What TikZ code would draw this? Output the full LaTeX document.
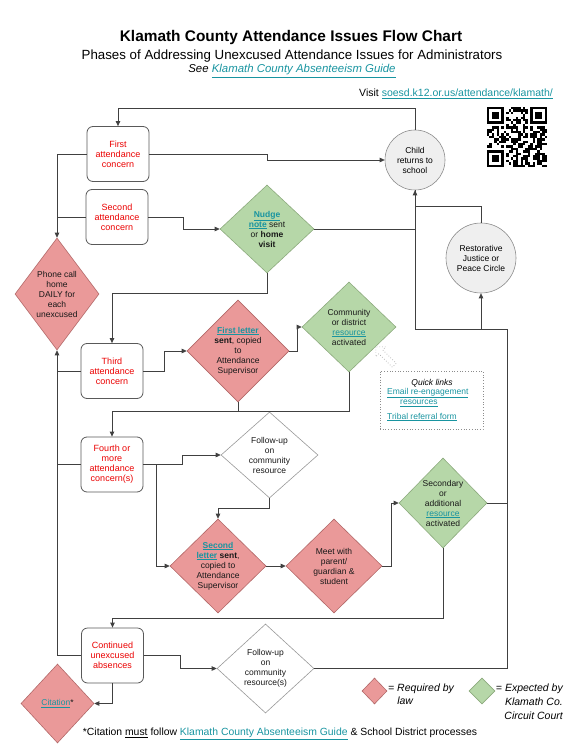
\documentclass[tikz,border=0pt]{standalone}
\usepackage{fontspec}
\setmainfont{Liberation Sans}
\usetikzlibrary{arrows.meta,shapes.geometric,shapes.arrows}
\definecolor{linkc}{RGB}{24,148,160}
\definecolor{redfill}{RGB}{234,153,153}
\definecolor{redline}{RGB}{178,104,104}
\definecolor{grnfill}{RGB}{182,215,168}
\definecolor{grnline}{RGB}{140,170,125}
\definecolor{circfill}{RGB}{239,239,239}
\definecolor{concern}{RGB}{235,0,0}
\newcommand{\lnk}[1]{\textcolor{linkc}{\underline{#1}}}

\begin{document}
\begin{tikzpicture}[x=1pt,y=-1pt,
  box/.style={draw=black!65,rounded corners=6pt,fill=white,line width=0.8pt,
              minimum width=62,minimum height=55,align=center,text=concern,
              font=\fontsize{9}{10}\selectfont},
  reddia/.style={diamond,draw=redline,fill=redfill,inner sep=0,line width=0.6pt},
  grndia/.style={diamond,draw=grnline,fill=grnfill,inner sep=0,line width=0.6pt},
  whtdia/.style={diamond,draw=black!40,fill=white,inner sep=0,line width=0.6pt},
  circ/.style={circle,draw=black!45,fill=circfill,align=center,inner sep=0,
               line width=0.6pt,font=\fontsize{8.5}{10}\selectfont},
  dtxt/.style={align=center,inner sep=0,font=\fontsize{8.5}{10}\selectfont,text=black!90},
  qtxt/.style={inner sep=0,font=\fontsize{8.5}{10}\selectfont},
  lgtxt/.style={inner sep=0,font=\itshape\fontsize{10.5}{12.5}\selectfont},
  arr/.style={-{Triangle[length=5pt,width=4.5pt]},draw=black!75,line width=0.8pt},
  ln/.style={draw=black!75,line width=0.8pt}
]
\useasboundingbox (0,0) rectangle (576,751);

% header
\node[font=\bfseries\fontsize{15.4}{18}\selectfont] (title) at (291,38) {Klamath County Attendance Issues Flow Chart};
\node[font=\fontsize{13.3}{16}\selectfont] (sub) at (292,56) {Phases of Addressing Unexcused Attendance Issues for Administrators};
\node[font=\itshape\fontsize{11.4}{13}\selectfont] (see) at (292,71) {See \lnk{Klamath County Absenteeism Guide}};
\node[font=\fontsize{10.5}{12}\selectfont,anchor=east,inner sep=0] (visit) at (553,94) {Visit \lnk{soesd.k12.or.us/attendance/klamath/}};

% QR code
\begin{scope}[shift={(487,107)}]
  \pgfmathsetseed{11}
  \foreach \i in {0,...,24}{
    \foreach \j in {0,...,24}{
      \pgfmathtruncatemacro{\qrout}{((\i<8)&&(\j<8))||((\i>16)&&(\j<8))||((\i<8)&&(\j>16))}
      \pgfmathrandominteger{\qrbit}{0}{1}
      \ifnum\qrout=0 \ifnum\qrbit=1
        \fill ({\i*2.4},{\j*2.4}) rectangle ++(2.4,2.4);
      \fi\fi
    }
  }
  \foreach \a/\b in {0/0,18/0,0/18}{
    \fill ({\a*2.4},{\b*2.4}) rectangle ++(16.8,16.8);
    \fill[white] ({\a*2.4+2.4},{\b*2.4+2.4}) rectangle ++(12,12);
    \fill ({\a*2.4+4.8},{\b*2.4+4.8}) rectangle ++(7.2,7.2);
  }
\end{scope}

% concern boxes
\node[box] (first)  at (118,154)   {First\\attendance\\concern};
\node[box] (second) at (117,217)   {Second\\attendance\\concern};
\node[box] (third)  at (112,371)   {Third\\attendance\\concern};
\node[box] (fourth) at (112,464.5) {Fourth or\\more\\attendance\\concern(s)};
\node[box] (cont)   at (112.5,655.5) {Continued\\unexcused\\absences};

% circles
\node[circ,minimum size=60] (child) at (415,160) {Child\\returns to\\school};
\node[circ,minimum size=70] (resto) at (481,258) {Restorative\\Justice or\\Peace Circle};

% diamonds
\node[reddia,minimum width=84,minimum height=112,
      label={[dtxt]center:{Phone call\\home\\DAILY for\\each\\unexcused}}] (phone) at (57,294) {};
\node[grndia,minimum width=94,minimum height=88,
      label={[dtxt]center:{\lnk{\textbf{Nudge}}\\\lnk{\textbf{note}} sent\\or \textbf{home}\\\textbf{visit}}}] (nudge) at (267,229) {};
\node[reddia,minimum width=102,minimum height=102,
      label={[dtxt]center:{\lnk{\textbf{First letter}}\\\textbf{sent}, copied\\to\\Attendance\\Supervisor}}] (letA) at (238,351) {};
\node[grndia,minimum width=94,minimum height=90,
      label={[dtxt]center:{Community\\or district\\\lnk{resource}\\activated}}] (comm) at (349,327) {};
\node[whtdia,minimum width=97,minimum height=86,
      label={[dtxt]center:{Follow-up\\on\\community\\resource}}] (fupA) at (269.5,455) {};
\node[reddia,minimum width=96,minimum height=94,
      label={[dtxt]center:{\lnk{\textbf{Second}}\\\lnk{\textbf{letter}} \textbf{sent},\\copied to\\Attendance\\Supervisor}}] (letB) at (218,566) {};
\node[reddia,minimum width=96,minimum height=94,
      label={[dtxt]center:{Meet with\\parent/\\guardian \&\\student}}] (meet) at (334,566) {};
\node[grndia,minimum width=88,minimum height=90,
      label={[dtxt]center:{Secondary\\or\\additional\\\lnk{resource}\\activated}}] (secd) at (443,503) {};
\node[whtdia,minimum width=97,minimum height=89,
      label={[dtxt]center:{Follow-up\\on\\community\\resource(s)}}] (fupB) at (265.5,668.5) {};
\node[reddia,minimum width=73,minimum height=79,
      label={[dtxt]center:{\lnk{Citation}*}}] (cit) at (57.5,703.5) {};

% quick links
\node[draw=black!45,dotted,line width=0.7pt,minimum width=103,minimum height=58] (quick) at (431.5,400) {};
\node[single arrow,draw=black!35,dotted,line width=0.7pt,rotate=135,minimum height=26,
      minimum width=14,single arrow head extend=3pt,inner sep=1.5pt] (qarrow) at (386,357) {};
\node[qtxt,font=\itshape\fontsize{8.5}{10}\selectfont] (qtitle) at (432,383) {Quick links};
\node[qtxt,anchor=west] (qmail) at (387,393) {\lnk{Email re-engagement}};
\node[qtxt,anchor=west] (qres)  at (400,403) {\lnk{resources}};
\node[qtxt,anchor=west] (qtrib) at (387,417) {\lnk{Tribal referral form}};

% junctions on the right
\coordinate (jn) at (415,329);
\coordinate (jr) at (507,329);

% arrows
\draw[arr] (child.north) -- ++(0,-21) -| (first.north);
\draw[arr] (first.east) -- ++(118,0) |- (child.west);
\draw[arr] (first.west) -| (phone.north);
\draw[ln]  (second.west) -- (second.west -| phone.north);
\draw[arr] (second.east) -- ++(35,0) |- (nudge.west);
\draw[ln]  (nudge.east) -- (nudge.east -| jn);
\draw[arr] (jn) -- (child.south);
\draw[ln]  (resto.north) -- ++(0,-16) -| (child.south);
\draw[arr] (jn -| resto.south) -- (resto.south);
\draw[ln]  (jn) -- (jr);
\draw[arr] (nudge.south) -- ++(0,20) -| (third.north);
\draw[ln]  (third.west) -- (third.west -| phone.south);
\draw[arr] (third.east) -- ++(21,0) |- (letA.west);
\draw[arr] (letA.east) -- ++(8,0) |- (comm.west);
\draw[arr] (comm.south) -- ++(0,39) -| (fourth.north);
\draw[ln]  (letA.south) -- ++(0,9);
\draw[ln]  (fourth.west) -- (fourth.west -| phone.south);
\draw[arr] (fourth.east) -- ++(39,0) |- (fupA.west);
\draw[arr] (fourth.east) -- ++(13,0) |- (letB.west);
\draw[arr] (fupA.south) -- ++(0,10) -| (letB.north);
\draw[arr] (letB.east) -- (meet.west);
\draw[arr] (meet.east) -- ++(9,0) |- (secd.west);
\draw[ln]  (secd.east) -- (secd.east -| jr);
\draw[arr] (secd.south) -- ++(0,70) -| (cont.north);
\draw[arr] (cont.west) -| (phone.south);
\draw[arr] (cont.south) |- (cit.east);
\draw[arr] (cont.east) -- ++(36,0) |- (fupB.west);
\draw[ln]  (fupB.east) -| (jr);

% legend
\node[reddia,minimum width=25,minimum height=26] (legR) at (374.5,691) {};
\node[lgtxt,anchor=north west,align=left] (legRt) at (388,684) {= Required by\\\phantom{= }law};
\node[grndia,minimum width=26,minimum height=26] (legG) at (482,691) {};
\node[lgtxt,anchor=north east,align=right,font=\itshape\fontsize{10.5}{14}\selectfont] (legGt) at (563,684) {= Expected by\\Klamath Co.\\Circuit Court};

% footnote
\node[font=\fontsize{10.4}{12}\selectfont] (foot) at (280,734) {*Citation \underline{must} follow \lnk{Klamath County Absenteeism Guide} \& School District processes};

\end{tikzpicture}
\end{document}
